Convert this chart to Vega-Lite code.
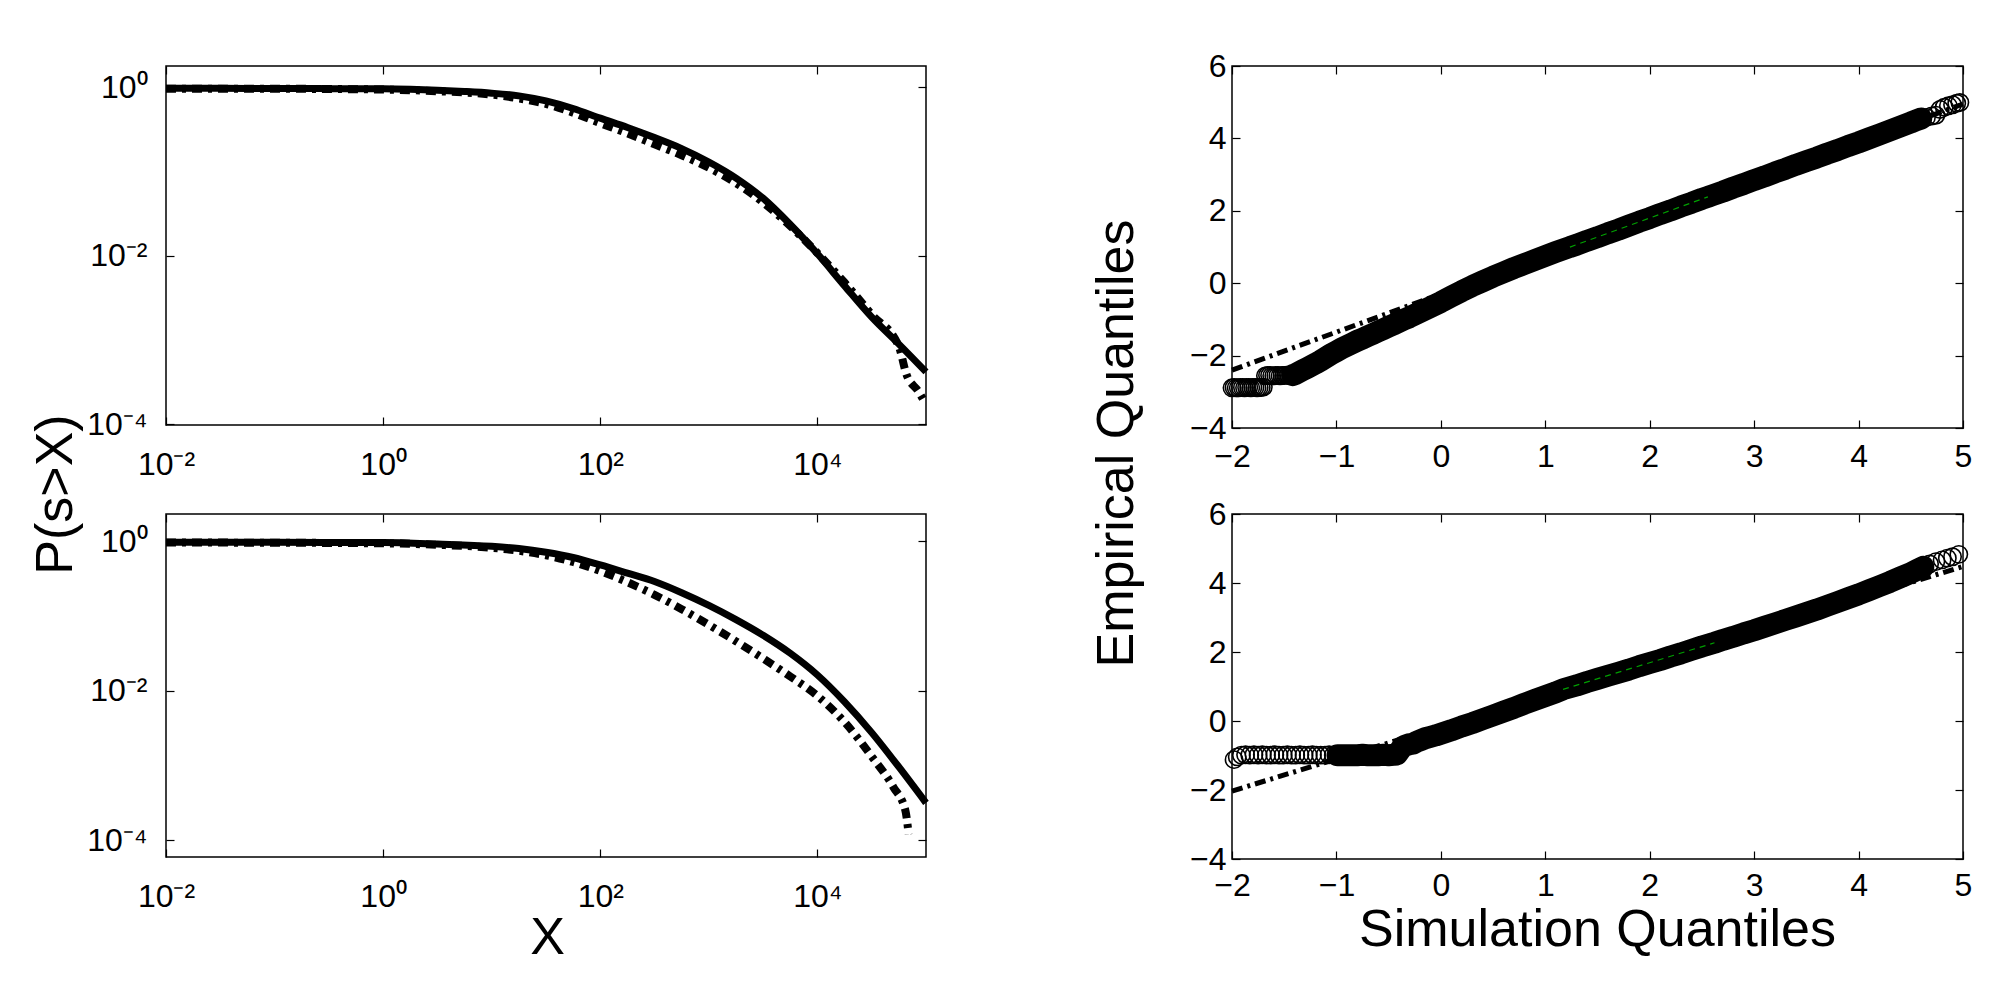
{
  "$schema": "https://vega.github.io/schema/vega-lite/v6.json",
  "background": "white",
  "padding": {"left": 28, "top": 49, "right": 10, "bottom": 10},
  "config": {
    "font": "Liberation Sans",
    "view": {"stroke": "black", "strokeWidth": 1.5, "fill": "white"},
    "axis": {
      "labelFont": "Liberation Sans", "labelFontSize": 32, "labelColor": "black",
      "titleFont": "Liberation Sans", "titleFontSize": 52, "titleFontWeight": "normal", "titleColor": "black",
      "domain": false, "grid": false, "tickColor": "black", "tickWidth": 1.2, "tickSize": -8,
      "labelOverlap": false
    }
  },
  "datasets": {
    "tl_solid": [{"x":0.01,"p":0.966},{"x":0.0316,"p":0.964},{"x":0.1,"p":0.962},{"x":0.316,"p":0.957},{"x":1,"p":0.951},{"x":1.78,"p":0.938},{"x":3.16,"p":0.916},{"x":5.62,"p":0.885},{"x":10,"p":0.845},{"x":17.8,"p":0.785},{"x":31.6,"p":0.684},{"x":56.2,"p":0.556},{"x":100,"p":0.427},{"x":178,"p":0.331},{"x":316,"p":0.251},{"x":562,"p":0.186},{"x":1000,"p":0.129},{"x":1778,"p":0.0832},{"x":3162,"p":0.0479},{"x":5623,"p":0.0234},{"x":10000,"p":0.0105},{"x":17783,"p":0.00437},{"x":31623,"p":0.00186},{"x":56234,"p":0.000891},{"x":100000,"p":0.000417}],
    "tl_dash": [{"x":0.01,"p":0.955},{"x":0.1,"p":0.953},{"x":1,"p":0.933},{"x":3.16,"p":0.891},{"x":10,"p":0.813},{"x":17.8,"p":0.733},{"x":31.6,"p":0.631},{"x":56.2,"p":0.495},{"x":100,"p":0.372},{"x":178,"p":0.282},{"x":316,"p":0.209},{"x":562,"p":0.155},{"x":1000,"p":0.11},{"x":1778,"p":0.0724},{"x":3162,"p":0.0427},{"x":5623,"p":0.0224},{"x":10000,"p":0.0107},{"x":17783,"p":0.00479},{"x":31623,"p":0.002},{"x":56234,"p":0.000832},{"x":66069,"p":0.000389},{"x":85114,"p":0.000245},{"x":93325,"p":0.0002}],
    "bl_solid": [{"x":0.01,"p":0.966},{"x":0.1,"p":0.962},{"x":1,"p":0.955},{"x":3.16,"p":0.912},{"x":10,"p":0.851},{"x":17.8,"p":0.794},{"x":31.6,"p":0.708},{"x":56.2,"p":0.603},{"x":100,"p":0.479},{"x":178,"p":0.372},{"x":316,"p":0.288},{"x":562,"p":0.204},{"x":1000,"p":0.138},{"x":1778,"p":0.0891},{"x":3162,"p":0.055},{"x":5623,"p":0.0316},{"x":10000,"p":0.0162},{"x":17783,"p":0.00708},{"x":31623,"p":0.00275},{"x":56234,"p":0.000955},{"x":100000,"p":0.000316}],
    "bl_dash": [{"x":0.01,"p":0.955},{"x":0.1,"p":0.95},{"x":1,"p":0.933},{"x":3.16,"p":0.891},{"x":10,"p":0.813},{"x":17.8,"p":0.741},{"x":31.6,"p":0.646},{"x":56.2,"p":0.525},{"x":100,"p":0.398},{"x":178,"p":0.282},{"x":316,"p":0.191},{"x":562,"p":0.123},{"x":1000,"p":0.0759},{"x":1778,"p":0.0457},{"x":3162,"p":0.0269},{"x":5623,"p":0.0155},{"x":10000,"p":0.00851},{"x":17783,"p":0.0038},{"x":31623,"p":0.00132},{"x":50119,"p":0.000513},{"x":64565,"p":0.000251},{"x":69183,"p":0.00012}],
    "tr_pts": [{"x":-2.0,"y":-2.89},{"x":-1.98,"y":-2.88},{"x":-1.96,"y":-2.89},{"x":-1.94,"y":-2.89},{"x":-1.92,"y":-2.88},{"x":-1.9,"y":-2.88},{"x":-1.88,"y":-2.89},{"x":-1.86,"y":-2.88},{"x":-1.84,"y":-2.88},{"x":-1.82,"y":-2.89},{"x":-1.8,"y":-2.88},{"x":-1.78,"y":-2.88},{"x":-1.76,"y":-2.89},{"x":-1.74,"y":-2.88},{"x":-1.72,"y":-2.88},{"x":-1.7,"y":-2.87},{"x":-1.68,"y":-2.56},{"x":-1.66,"y":-2.55},{"x":-1.64,"y":-2.55},{"x":-1.62,"y":-2.56},{"x":-1.6,"y":-2.56},{"x":-1.58,"y":-2.55},{"x":-1.56,"y":-2.55},{"x":-1.54,"y":-2.56},{"x":-1.52,"y":-2.55},{"x":-1.5,"y":-2.55},{"x":-1.48,"y":-2.54},{"x":-1.46,"y":-2.55},{"x":-1.44,"y":-2.55},{"x":-1.42,"y":-2.54},{"x":-1.4,"y":-2.52},{"x":-1.36,"y":-2.46},{"x":-1.32,"y":-2.4},{"x":-1.28,"y":-2.34},{"x":-1.24,"y":-2.28},{"x":-1.2,"y":-2.22},{"x":-1.15,"y":-2.14},{"x":-1.1,"y":-2.05},{"x":-1.05,"y":-1.96},{"x":-1.0,"y":-1.88},{"x":-0.95,"y":-1.8},{"x":-0.9,"y":-1.73},{"x":-0.85,"y":-1.66},{"x":-0.8,"y":-1.59},{"x":-0.75,"y":-1.53},{"x":-0.7,"y":-1.46},{"x":-0.65,"y":-1.4},{"x":-0.6,"y":-1.33},{"x":-0.55,"y":-1.27},{"x":-0.5,"y":-1.2},{"x":-0.45,"y":-1.14},{"x":-0.4,"y":-1.07},{"x":-0.35,"y":-1.0},{"x":-0.3,"y":-0.94},{"x":-0.25,"y":-0.87},{"x":-0.2,"y":-0.8},{"x":-0.15,"y":-0.73},{"x":-0.1,"y":-0.66},{"x":-0.05,"y":-0.59},{"x":0.0,"y":-0.52},{"x":0.1,"y":-0.37},{"x":0.2,"y":-0.22},{"x":0.3,"y":-0.08},{"x":0.4,"y":0.05},{"x":0.5,"y":0.18},{"x":0.6,"y":0.3},{"x":0.7,"y":0.42},{"x":0.8,"y":0.53},{"x":0.9,"y":0.64},{"x":1.0,"y":0.75},{"x":1.1,"y":0.86},{"x":1.236,"y":1.0},{"x":1.3,"y":1.06},{"x":1.4,"y":1.17},{"x":1.5,"y":1.27},{"x":1.6,"y":1.38},{"x":1.7,"y":1.48},{"x":1.8,"y":1.59},{"x":1.9,"y":1.7},{"x":2.0,"y":1.8},{"x":2.1,"y":1.91},{"x":2.2,"y":2.01},{"x":2.3,"y":2.12},{"x":2.4,"y":2.22},{"x":2.5,"y":2.33},{"x":2.557,"y":2.385},{"x":2.6,"y":2.43},{"x":2.7,"y":2.53},{"x":2.8,"y":2.64},{"x":2.9,"y":2.74},{"x":3.0,"y":2.85},{"x":3.1,"y":2.95},{"x":3.2,"y":3.06},{"x":3.3,"y":3.16},{"x":3.4,"y":3.27},{"x":3.5,"y":3.37},{"x":3.6,"y":3.47},{"x":3.7,"y":3.58},{"x":3.8,"y":3.68},{"x":3.9,"y":3.79},{"x":4.0,"y":3.89},{"x":4.1,"y":4.0},{"x":4.2,"y":4.11},{"x":4.3,"y":4.22},{"x":4.4,"y":4.33},{"x":4.5,"y":4.44},{"x":4.55,"y":4.5},{"x":4.6,"y":4.55},{"x":4.65,"y":4.58},{"x":4.7,"y":4.62},{"x":4.74,"y":4.64},{"x":4.78,"y":4.8},{"x":4.82,"y":4.86},{"x":4.86,"y":4.9},{"x":4.9,"y":4.93},{"x":4.94,"y":4.97},{"x":4.97,"y":4.99}],
    "br_pts": [{"x":-1.98,"y":-1.12},{"x":-1.95,"y":-1.04},{"x":-1.91,"y":-0.99},{"x":-1.87,"y":-0.98},{"x":-1.83,"y":-0.99},{"x":-1.79,"y":-0.98},{"x":-1.75,"y":-0.99},{"x":-1.71,"y":-0.98},{"x":-1.67,"y":-0.99},{"x":-1.63,"y":-0.99},{"x":-1.59,"y":-0.98},{"x":-1.55,"y":-0.99},{"x":-1.51,"y":-0.99},{"x":-1.47,"y":-0.98},{"x":-1.43,"y":-0.99},{"x":-1.39,"y":-0.99},{"x":-1.35,"y":-0.98},{"x":-1.31,"y":-0.99},{"x":-1.27,"y":-0.99},{"x":-1.23,"y":-0.98},{"x":-1.19,"y":-0.99},{"x":-1.15,"y":-0.99},{"x":-1.11,"y":-0.99},{"x":-1.07,"y":-0.98},{"x":-1.03,"y":-0.99},{"x":-0.99,"y":-0.99},{"x":-0.95,"y":-0.99},{"x":-0.9,"y":-0.99},{"x":-0.85,"y":-0.99},{"x":-0.8,"y":-0.99},{"x":-0.75,"y":-0.98},{"x":-0.7,"y":-0.99},{"x":-0.65,"y":-0.99},{"x":-0.6,"y":-0.99},{"x":-0.55,"y":-0.98},{"x":-0.5,"y":-0.99},{"x":-0.45,"y":-0.98},{"x":-0.42,"y":-0.97},{"x":-0.38,"y":-0.8},{"x":-0.35,"y":-0.72},{"x":-0.31,"y":-0.68},{"x":-0.27,"y":-0.66},{"x":-0.23,"y":-0.6},{"x":-0.19,"y":-0.55},{"x":-0.15,"y":-0.5},{"x":-0.1,"y":-0.46},{"x":-0.05,"y":-0.42},{"x":0.0,"y":-0.37},{"x":0.1,"y":-0.27},{"x":0.2,"y":-0.16},{"x":0.3,"y":-0.06},{"x":0.4,"y":0.05},{"x":0.5,"y":0.16},{"x":0.6,"y":0.27},{"x":0.7,"y":0.38},{"x":0.8,"y":0.5},{"x":0.9,"y":0.61},{"x":1.0,"y":0.72},{"x":1.1,"y":0.83},{"x":1.17,"y":0.92},{"x":1.3,"y":1.03},{"x":1.4,"y":1.13},{"x":1.5,"y":1.22},{"x":1.6,"y":1.31},{"x":1.7,"y":1.4},{"x":1.8,"y":1.49},{"x":1.9,"y":1.59},{"x":2.0,"y":1.68},{"x":2.1,"y":1.77},{"x":2.2,"y":1.87},{"x":2.3,"y":1.96},{"x":2.4,"y":2.06},{"x":2.5,"y":2.16},{"x":2.62,"y":2.27},{"x":2.7,"y":2.35},{"x":2.8,"y":2.44},{"x":2.9,"y":2.54},{"x":3.0,"y":2.63},{"x":3.1,"y":2.73},{"x":3.2,"y":2.83},{"x":3.3,"y":2.93},{"x":3.4,"y":3.03},{"x":3.5,"y":3.13},{"x":3.6,"y":3.23},{"x":3.7,"y":3.34},{"x":3.8,"y":3.45},{"x":3.9,"y":3.56},{"x":4.0,"y":3.67},{"x":4.1,"y":3.79},{"x":4.2,"y":3.91},{"x":4.3,"y":4.03},{"x":4.4,"y":4.16},{"x":4.5,"y":4.29},{"x":4.56,"y":4.38},{"x":4.62,"y":4.47},{"x":4.68,"y":4.55},{"x":4.74,"y":4.62},{"x":4.8,"y":4.67},{"x":4.85,"y":4.72},{"x":4.9,"y":4.76},{"x":4.96,"y":4.83}],
    "tr_ref": [{"x":-2,"y":-2.4},{"x":5,"y":4.95}],
    "tr_iqr": [{"x":1.236,"y":0.998},{"x":2.557,"y":2.385}],
    "br_ref": [{"x":-2,"y":-2.03},{"x":5,"y":4.48}],
    "br_iqr": [{"x":1.17,"y":0.918},{"x":2.62,"y":2.267}]
  },
  "columns": 2,
  "spacing": {"row": 86, "column": 306},
  "bounds": "flush",
  "concat": [
    {
      "width": 760, "height": 359,
      "layer": [
        {
          "data": {"name": "tl_solid"},
          "mark": {"type": "line", "color": "black", "strokeWidth": 7, "strokeJoin": "round", "interpolate": "monotone"},
          "encoding": {
            "x": {"field": "x", "type": "quantitative", "scale": {"type": "log", "domain": [0.01, 100000], "nice": false},
              "axis": {"orient": "bottom", "values": [0.01, 1, 100, 10000], "labelExpr": "datum.value < 0.1 ? '10⁻²' : datum.value < 10 ? '10⁰' : datum.value < 1000 ? '10²' : '10⁴'", "labelFlush": false, "labelBaseline": "alphabetic", "labelPadding": 57, "title": null}},
            "y": {"field": "p", "type": "quantitative", "scale": {"type": "log", "domain": [0.0000977, 1.776], "nice": false},
              "axis": {"orient": "left", "values": [0.0001, 0.01, 1], "labelExpr": "datum.value < 0.001 ? '10⁻⁴' : datum.value < 0.1 ? '10⁻²' : '10⁰'", "labelPadding": 27, "title": "P(s>X)", "titleX": -95, "titleY": 428, "titleAngle": 270, "titleAlign": "center", "titleBaseline": "alphabetic"}}
          }
        },
        {
          "data": {"name": "tl_dash"},
          "mark": {"type": "line", "color": "black", "strokeWidth": 8, "strokeDash": [10, 6, 4, 6], "interpolate": "monotone"},
          "encoding": {
            "x": {"field": "x", "type": "quantitative", "axis": {"orient": "top", "values": [0.01, 1, 100, 10000], "labels": false, "title": null}},
            "y": {"field": "p", "type": "quantitative", "axis": {"orient": "right", "values": [0.0001, 0.01, 1], "labels": false, "title": null}}
          }
        }
      ],
      "resolve": {"axis": {"x": "independent", "y": "independent"}}
    },
    {
      "width": 731, "height": 362,
      "layer": [
        {
          "data": {"name": "tr_ref"},
          "mark": {"type": "line", "color": "black", "strokeWidth": 5, "strokeDash": [11, 5, 3, 5]},
          "encoding": {
            "x": {"field": "x", "type": "quantitative", "scale": {"domain": [-2, 5], "nice": false, "zero": false},
              "axis": {"orient": "bottom", "values": [-2, -1, 0, 1, 2, 3, 4, 5], "labelFlush": false, "labelBaseline": "alphabetic", "labelPadding": 46, "title": null}},
            "y": {"field": "y", "type": "quantitative", "scale": {"domain": [-4, 6], "nice": false, "zero": false},
              "axis": {"orient": "left", "values": [-4, -2, 0, 2, 4, 6], "labelPadding": 14, "title": "Empirical Quantiles", "titleX": -100, "titleY": 377, "titleAngle": 270, "titleAlign": "center", "titleBaseline": "alphabetic"}}
          }
        },
        {
          "data": {"name": "tr_pts"},
          "transform": [{"filter": "datum.x >= -1.42 && datum.x <= 4.62"}],
          "mark": {"type": "line", "color": "black", "strokeWidth": 22, "strokeCap": "round", "strokeJoin": "round"},
          "encoding": {
            "x": {"field": "x", "type": "quantitative", "axis": {"orient": "top", "values": [-2, -1, 0, 1, 2, 3, 4, 5], "labels": false, "title": null}},
            "y": {"field": "y", "type": "quantitative", "axis": {"orient": "right", "values": [-4, -2, 0, 2, 4, 6], "labels": false, "title": null}}
          }
        },
        {
          "data": {"name": "tr_pts"},
          "mark": {"type": "point", "shape": "circle", "filled": false, "size": 300, "stroke": "black", "strokeWidth": 1.6, "opacity": 1},
          "encoding": {
            "x": {"field": "x", "type": "quantitative", "axis": null},
            "y": {"field": "y", "type": "quantitative", "axis": null}
          }
        },
        {
          "data": {"name": "tr_iqr"},
          "mark": {"type": "line", "color": "#00a000", "strokeWidth": 1.2, "strokeDash": [6, 5]},
          "encoding": {
            "x": {"field": "x", "type": "quantitative", "axis": null},
            "y": {"field": "y", "type": "quantitative", "axis": null}
          }
        }
      ],
      "resolve": {"axis": {"x": "independent", "y": "independent"}}
    },
    {
      "width": 760, "height": 343,
      "layer": [
        {
          "data": {"name": "bl_solid"},
          "mark": {"type": "line", "color": "black", "strokeWidth": 7, "strokeJoin": "round", "interpolate": "monotone"},
          "encoding": {
            "x": {"field": "x", "type": "quantitative", "scale": {"type": "log", "domain": [0.01, 100000], "nice": false},
              "axis": {"orient": "bottom", "values": [0.01, 1, 100, 10000], "labelExpr": "datum.value < 0.1 ? '10⁻²' : datum.value < 10 ? '10⁰' : datum.value < 1000 ? '10²' : '10⁴'", "labelFlush": false, "labelBaseline": "alphabetic", "labelPadding": 57, "title": "X", "titleX": 381, "titleY": 96, "titleBaseline": "alphabetic"}},
            "y": {"field": "p", "type": "quantitative", "scale": {"type": "log", "domain": [0.0000598, 2.3], "nice": false},
              "axis": {"orient": "left", "values": [0.0001, 0.01, 1], "labelExpr": "datum.value < 0.001 ? '10⁻⁴' : datum.value < 0.1 ? '10⁻²' : '10⁰'", "labelPadding": 27, "title": null}}
          }
        },
        {
          "data": {"name": "bl_dash"},
          "mark": {"type": "line", "color": "black", "strokeWidth": 8, "strokeDash": [10, 6, 4, 6], "interpolate": "monotone"},
          "encoding": {
            "x": {"field": "x", "type": "quantitative", "axis": {"orient": "top", "values": [0.01, 1, 100, 10000], "labels": false, "title": null}},
            "y": {"field": "p", "type": "quantitative", "axis": {"orient": "right", "values": [0.0001, 0.01, 1], "labels": false, "title": null}}
          }
        }
      ],
      "resolve": {"axis": {"x": "independent", "y": "independent"}}
    },
    {
      "width": 731, "height": 345,
      "layer": [
        {
          "data": {"name": "br_ref"},
          "mark": {"type": "line", "color": "black", "strokeWidth": 5, "strokeDash": [11, 5, 3, 5]},
          "encoding": {
            "x": {"field": "x", "type": "quantitative", "scale": {"domain": [-2, 5], "nice": false, "zero": false},
              "axis": {"orient": "bottom", "values": [-2, -1, 0, 1, 2, 3, 4, 5], "labelFlush": false, "labelBaseline": "alphabetic", "labelPadding": 44, "title": "Simulation Quantiles", "titleX": 365, "titleY": 86, "titleBaseline": "alphabetic"}},
            "y": {"field": "y", "type": "quantitative", "scale": {"domain": [-4, 6], "nice": false, "zero": false},
              "axis": {"orient": "left", "values": [-4, -2, 0, 2, 4, 6], "labelPadding": 14, "title": null}}
          }
        },
        {
          "data": {"name": "br_pts"},
          "transform": [{"filter": "datum.x >= -1.0 && datum.x <= 4.62"}],
          "mark": {"type": "line", "color": "black", "strokeWidth": 22, "strokeCap": "round", "strokeJoin": "round"},
          "encoding": {
            "x": {"field": "x", "type": "quantitative", "axis": {"orient": "top", "values": [-2, -1, 0, 1, 2, 3, 4, 5], "labels": false, "title": null}},
            "y": {"field": "y", "type": "quantitative", "axis": {"orient": "right", "values": [-4, -2, 0, 2, 4, 6], "labels": false, "title": null}}
          }
        },
        {
          "data": {"name": "br_pts"},
          "mark": {"type": "point", "shape": "circle", "filled": false, "size": 300, "stroke": "black", "strokeWidth": 1.6, "opacity": 1},
          "encoding": {
            "x": {"field": "x", "type": "quantitative", "axis": null},
            "y": {"field": "y", "type": "quantitative", "axis": null}
          }
        },
        {
          "data": {"name": "br_iqr"},
          "mark": {"type": "line", "color": "#00a000", "strokeWidth": 1.2, "strokeDash": [6, 5]},
          "encoding": {
            "x": {"field": "x", "type": "quantitative", "axis": null},
            "y": {"field": "y", "type": "quantitative", "axis": null}
          }
        }
      ],
      "resolve": {"axis": {"x": "independent", "y": "independent"}}
    }
  ]
}
